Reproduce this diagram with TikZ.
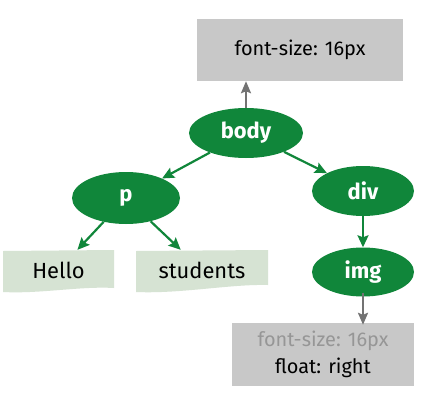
\documentclass[tikz,border=0pt]{standalone}
\usepackage{fontspec}
\setmainfont{Fira Sans}
\usetikzlibrary{shapes.geometric,arrows.meta}
\definecolor{tgreen}{RGB}{16,134,58}
\definecolor{boxgray}{RGB}{200,200,200}
\definecolor{leafgreen}{RGB}{214,227,211}
\definecolor{arrgray}{RGB}{115,115,115}
\definecolor{fadetext}{RGB}{150,150,150}
\tikzset{
  elnode/.style={ellipse, fill=tgreen, text=white, font=\fontsize{22}{26}\selectfont\bfseries, inner sep=0pt},
  graybox/.style={rectangle, fill=boxgray, inner sep=0pt, font=\fontsize{20}{27}\selectfont, align=center},
  leafnode/.style={rectangle, inner sep=0pt, font=\fontsize{22}{26}\selectfont},
  garrow/.style={draw=tgreen, line width=2.2bp, -{Stealth[length=12bp,width=11bp,inset=2bp]}},
  grayarrow/.style={draw=arrgray, line width=2.2bp, -{Stealth[length=12bp,width=10bp,inset=2bp]}}
}
\begin{document}
\begin{tikzpicture}[x=1bp,y=-1bp]
\useasboundingbox[fill=white] (0,0) rectangle (421,409);
% leaf shapes
\fill[leafgreen] (3,251) -- (114,250) -- (114,288) .. controls (80,286) and (40,294) .. (3,292) -- cycle;
\fill[leafgreen] (136,251) -- (268,250) -- (268,285) .. controls (230,284) and (180,294) .. (136,292) -- cycle;
% nodes
\node[graybox, minimum width=206bp, minimum height=62bp] (top) at (300,50) {font-size: 16px};
\node[elnode, minimum width=114bp, minimum height=50bp] (body) at (246,133) {body};
\node[elnode, minimum width=108bp, minimum height=52bp] (p) at (126,198) {p};
\node[elnode, minimum width=102bp, minimum height=50bp] (div) at (363,191) {div};
\node[elnode, minimum width=102bp, minimum height=49bp] (img) at (363,272) {img};
\node[leafnode, minimum width=111bp, minimum height=40bp] (hello) at (58.5,270) {Hello};
\node[leafnode, minimum width=132bp, minimum height=40bp] (students) at (202,270) {students};
\node[graybox, minimum width=182bp, minimum height=63bp] (bot) at (323,354.5) {\textcolor{fadetext}{font-size: 16px}\\float: right};
% connectors
\draw[grayarrow] (body.north) -- (body.north |- top.south);
\draw[garrow] (body) -- (p);
\draw[garrow] (body) -- (div);
\draw[garrow] (p) -- (hello);
\draw[garrow] (p) -- (students);
\draw[garrow] (div) -- (img);
\coordinate (imgb) at ([yshift=4bp]img.south);
\draw[grayarrow] (imgb) -- ([yshift=-2bp]bot.north -| imgb);
\end{tikzpicture}
\end{document}
